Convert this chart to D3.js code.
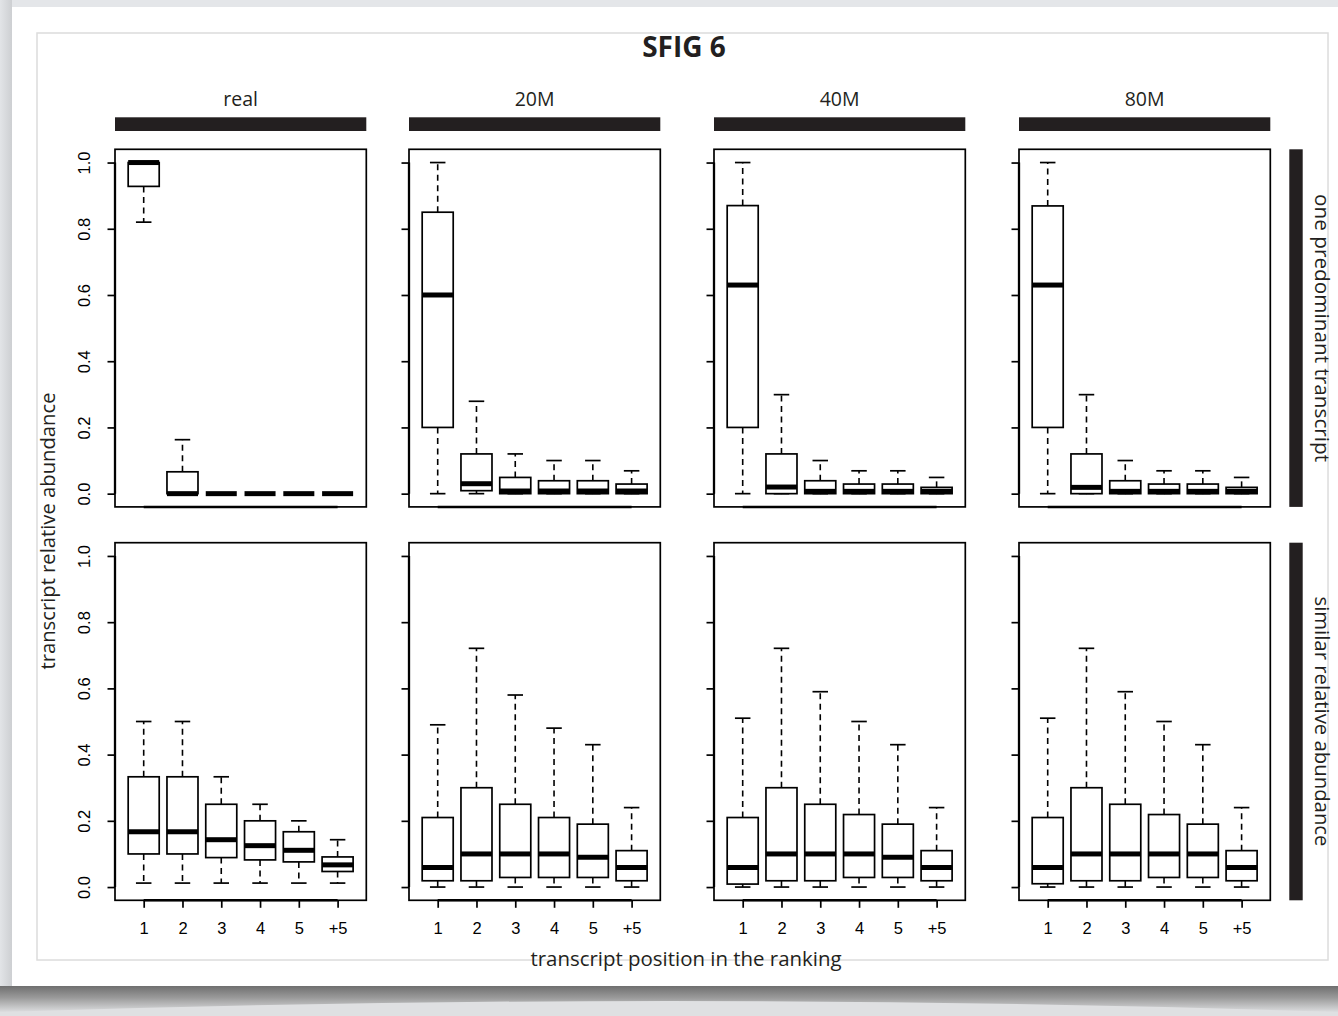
<!DOCTYPE html>
<html>
<head>
<meta charset="utf-8">
<script src="https://cdn.jsdelivr.net/npm/d3@7"></script>
<style>
  html, body { margin: 0; padding: 0; background: #e6e8eb; }
  svg { display: block; }
</style>
</head>
<body>
<svg id="chart" width="1338" height="1016"></svg>
<script>
// ---------------- data ----------------
const title = "SFIG 6";
const facetCols = ["real", "20M", "40M", "80M"];
const facetRows = ["one predominant transcript", "similar relative abundance"];
const positions = ["1", "2", "3", "4", "5", "+5"];
const yTicks = [0, 0.2, 0.4, 0.6, 0.8, 1.0];
const yLabel = "transcript relative abundance";
const xLabel = "transcript position in the ranking";

// each entry: [lower whisker, Q1, median, Q3, upper whisker]
const oneReal = [[0.82, 0.928, 1, 1, 1], [0, 0, 0, 0.066, 0.163], [0, 0, 0, 0, 0], [0, 0, 0, 0, 0], [0, 0, 0, 0, 0], [0, 0, 0, 0, 0]];
const one20M  = [[0, 0.2, 0.6, 0.85, 1], [0, 0.009, 0.03, 0.12, 0.279], [0, 0, 0.008, 0.049, 0.12], [0, 0, 0.008, 0.039, 0.1], [0, 0, 0.008, 0.039, 0.1], [0, 0, 0.008, 0.029, 0.069]];
const one40M  = [[0, 0.2, 0.63, 0.87, 1], [0, 0, 0.02, 0.12, 0.299], [0, 0, 0.007, 0.039, 0.1], [0, 0, 0.007, 0.029, 0.069], [0, 0, 0.007, 0.029, 0.069], [0, 0, 0.007, 0.019, 0.049]];
const one80M  = [[0, 0.2, 0.63, 0.869, 1], [0, 0, 0.019, 0.12, 0.299], [0, 0, 0.007, 0.039, 0.1], [0, 0, 0.007, 0.029, 0.069], [0, 0, 0.007, 0.029, 0.069], [0, 0, 0.007, 0.019, 0.049]];
const simReal = [[0.012, 0.1, 0.167, 0.333, 0.5], [0.012, 0.1, 0.167, 0.333, 0.5], [0.012, 0.089, 0.143, 0.25, 0.333], [0.012, 0.082, 0.125, 0.2, 0.25], [0.012, 0.076, 0.111, 0.167, 0.2], [0.012, 0.047, 0.067, 0.091, 0.143]];
const sim20M  = [[0, 0.019, 0.059, 0.21, 0.49], [0, 0.019, 0.1, 0.3, 0.721], [0, 0.029, 0.1, 0.25, 0.58], [0, 0.029, 0.1, 0.21, 0.48], [0, 0.029, 0.09, 0.19, 0.43], [0, 0.019, 0.059, 0.11, 0.24]];
const sim40M  = [[0, 0.009, 0.059, 0.21, 0.51], [0, 0.019, 0.1, 0.3, 0.721], [0, 0.019, 0.1, 0.25, 0.59], [0, 0.029, 0.1, 0.219, 0.5], [0, 0.029, 0.09, 0.19, 0.43], [0, 0.019, 0.059, 0.11, 0.24]];
const sim80M  = [[0, 0.01, 0.059, 0.21, 0.51], [0, 0.019, 0.1, 0.3, 0.721], [0, 0.019, 0.1, 0.25, 0.59], [0, 0.029, 0.1, 0.219, 0.5], [0, 0.029, 0.1, 0.19, 0.43], [0, 0.019, 0.059, 0.11, 0.24]];

const panelData = [
  [oneReal, one20M, one40M, one80M],
  [simReal, sim20M, sim40M, sim80M]
];

// ---------------- layout ----------------
const W = 1338, H = 1016;
const colLeft = [115, 409, 714, 1019];
const panelW = 251.3;
const rowTop = [149.3, 542.7];
const panelH = 357.6;
const ink = "#231f20";
const sansUI = "'Open Sans', 'Noto Sans', sans-serif";
const sansR = "'Liberation Sans', Arial, sans-serif";

const svg = d3.select("#chart");
const defs = svg.append("defs");

// background / paper
svg.append("rect").attr("width", W).attr("height", H).attr("fill", "#e4e6e9");
const lg = defs.append("linearGradient").attr("id", "leftShade").attr("x1", 0).attr("x2", 1);
lg.append("stop").attr("offset", 0).attr("stop-color", "#e2e4e7");
lg.append("stop").attr("offset", 1).attr("stop-color", "#cdcfd2");
svg.append("rect").attr("x", 0).attr("y", 0).attr("width", 12).attr("height", 990).attr("fill", "url(#leftShade)");
svg.append("rect").attr("x", 12).attr("y", 7).attr("width", W - 12).attr("height", 979).attr("fill", "#ffffff");

// bottom curl shadow
svg.append("rect").attr("x", 0).attr("y", 986).attr("width", W).attr("height", 30).attr("fill", "#dfe0e2");
const sg = defs.append("linearGradient").attr("id", "botShade").attr("x1", 0).attr("x2", 0).attr("y1", 0).attr("y2", 1);
sg.append("stop").attr("offset", 0).attr("stop-color", "#6f6f6f");
sg.append("stop").attr("offset", 0.45).attr("stop-color", "#9a9a9a");
sg.append("stop").attr("offset", 1).attr("stop-color", "#dcdddf");
svg.append("path")
  .attr("d", `M0,986 L${W},986 L${W},1012 Q${W / 2},990 0,1012 Z`)
  .attr("fill", "url(#botShade)");

// inner frame
svg.append("rect").attr("x", 37).attr("y", 33).attr("width", 1291).attr("height", 927)
  .attr("fill", "none").attr("stroke", "#dcdcdc").attr("stroke-width", 1.5);

// title
svg.append("text").attr("x", 684).attr("y", 57).attr("text-anchor", "middle")
  .attr("font-family", sansUI).attr("font-weight", 700).attr("font-size", 28)
  .attr("fill", ink).text(title);

// column strips
facetCols.forEach((c, i) => {
  svg.append("rect").attr("x", colLeft[i]).attr("y", 117.3).attr("width", panelW).attr("height", 13.7).attr("fill", ink);
  svg.append("text").attr("x", colLeft[i] + panelW / 2).attr("y", 106).attr("text-anchor", "middle")
    .attr("font-family", sansUI).attr("font-size", 19.5).attr("fill", ink).text(c);
});

// row strips
const rowLabelLen = [268, 250];
facetRows.forEach((r, j) => {
  svg.append("rect").attr("x", 1289.3).attr("y", rowTop[j]).attr("width", 13.4).attr("height", panelH).attr("fill", ink);
  const cy = rowTop[j] + panelH / 2;
  svg.append("text").attr("transform", `translate(1315,${cy}) rotate(90)`)
    .attr("text-anchor", "middle").attr("font-family", sansUI).attr("font-size", 20)
    .attr("textLength", rowLabelLen[j]).attr("lengthAdjust", "spacingAndGlyphs")
    .attr("fill", ink).text(r);
});

// axis titles
svg.append("text").attr("transform", `translate(55,531) rotate(-90)`)
  .attr("text-anchor", "middle").attr("font-family", sansUI).attr("font-size", 20)
  .attr("textLength", 277).attr("lengthAdjust", "spacingAndGlyphs")
  .attr("fill", ink).text(yLabel);
svg.append("text").attr("x", 686).attr("y", 966).attr("text-anchor", "middle")
  .attr("font-family", sansUI).attr("font-size", 20)
  .attr("textLength", 311).attr("lengthAdjust", "spacingAndGlyphs")
  .attr("fill", ink).text(xLabel);

// ---------------- panels ----------------
const idx = positions.map((p, i) => i + 1);
const lw = 1.7;

panelData.forEach((row, j) => {
  row.forEach((series, i) => {
    const x = d3.scaleLinear().domain([0.26, 6.74]).range([colLeft[i], colLeft[i] + panelW]);
    const y = d3.scaleLinear().domain([-0.04, 1.04]).range([rowTop[j] + panelH, rowTop[j]]);
    const g = svg.append("g");
    const boxW = x(0.8) - x(0);
    const capW = boxW / 2;

    // y axis (ticks everywhere, labels only first column)
    const ya = g.append("g").attr("transform", `translate(${colLeft[i]},0)`)
      .call(d3.axisLeft(y).tickValues(yTicks).tickSize(7.5).tickPadding(13)
        .tickFormat(i === 0 ? d3.format(".1f") : () => ""));
    ya.select(".domain").remove();
    ya.selectAll(".tick line").attr("stroke", "#000").attr("stroke-width", lw);
    ya.selectAll(".tick text")
      .attr("font-family", sansR).attr("font-size", 16.5).attr("fill", "#000")
      .attr("text-anchor", "middle").attr("dy", null).attr("x", null)
      .attr("transform", "translate(-25,0) rotate(-90)");
    g.append("line").attr("x1", colLeft[i]).attr("x2", colLeft[i])
      .attr("y1", y(0)).attr("y2", y(1)).attr("stroke", "#000").attr("stroke-width", lw + 0.6);

    // x axis
    const bottom = rowTop[j] + panelH;
    if (j === 1) {
      const xa = g.append("g").attr("transform", `translate(0,${bottom})`)
        .call(d3.axisBottom(x).tickValues(idx).tickSize(7.5).tickPadding(14)
          .tickFormat((d) => positions[d - 1]));
      xa.select(".domain").remove();
      xa.selectAll(".tick line").attr("stroke", "#000").attr("stroke-width", lw);
      xa.selectAll(".tick text").attr("font-family", sansR).attr("font-size", 16.5).attr("fill", "#000");
    }
    g.append("line").attr("x1", x(1)).attr("x2", x(6)).attr("y1", bottom).attr("y2", bottom)
      .attr("stroke", "#000").attr("stroke-width", lw + 0.8);

    // panel frame
    g.append("rect").attr("x", colLeft[i]).attr("y", rowTop[j]).attr("width", panelW).attr("height", panelH)
      .attr("fill", "none").attr("stroke", "#000").attr("stroke-width", lw);

    // boxes
    const bx = g.selectAll("g.box").data(series).join("g").attr("class", "box");
    // whiskers
    bx.append("line").attr("x1", (d, k) => x(k + 1)).attr("x2", (d, k) => x(k + 1))
      .attr("y1", (d) => y(d[3])).attr("y2", (d) => y(d[4]))
      .attr("stroke", "#000").attr("stroke-width", 1.6).attr("stroke-dasharray", "6,4.5");
    bx.append("line").attr("x1", (d, k) => x(k + 1)).attr("x2", (d, k) => x(k + 1))
      .attr("y1", (d) => y(d[1])).attr("y2", (d) => y(d[0]))
      .attr("stroke", "#000").attr("stroke-width", 1.6).attr("stroke-dasharray", "6,4.5");
    // caps
    [0, 4].forEach((q) => {
      bx.append("line").attr("x1", (d, k) => x(k + 1) - capW / 2).attr("x2", (d, k) => x(k + 1) + capW / 2)
        .attr("y1", (d) => y(d[q])).attr("y2", (d) => y(d[q]))
        .attr("stroke", "#000").attr("stroke-width", lw);
    });
    // box
    bx.append("rect").attr("x", (d, k) => x(k + 1) - boxW / 2).attr("width", boxW)
      .attr("y", (d) => y(d[3])).attr("height", (d) => y(d[1]) - y(d[3]))
      .attr("fill", "#fff").attr("stroke", "#000").attr("stroke-width", lw);
    // median
    bx.append("line").attr("x1", (d, k) => x(k + 1) - boxW / 2).attr("x2", (d, k) => x(k + 1) + boxW / 2)
      .attr("y1", (d) => y(d[2])).attr("y2", (d) => y(d[2]))
      .attr("stroke", "#000").attr("stroke-width", 5);
  });
});
</script>
</body>
</html>
